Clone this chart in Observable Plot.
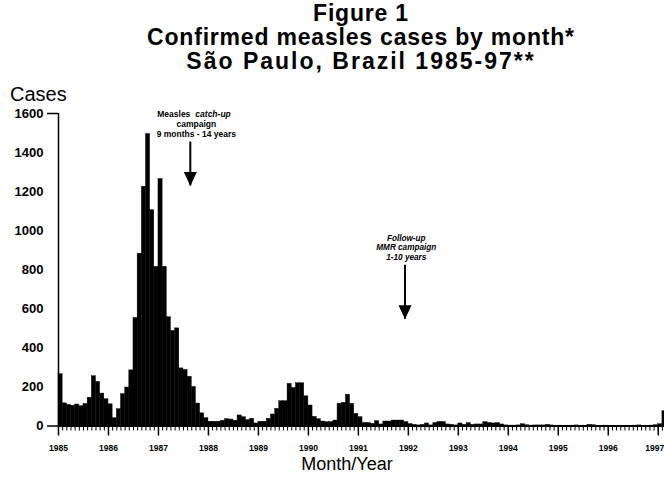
<!DOCTYPE html>
<html><head><meta charset="utf-8">
<script src="https://cdn.jsdelivr.net/npm/d3@7"></script>
<script src="https://cdn.jsdelivr.net/npm/@observablehq/plot@0.6"></script>
<style>
body{margin:0;background:#fff;}
#wrap{position:relative;width:664px;height:477px;overflow:hidden;font-family:"Liberation Sans",Arial,sans-serif;color:#000;background:#fff;}
#title{position:absolute;left:0;top:1px;width:664px;padding-left:58px;box-sizing:border-box;text-align:center;font-weight:bold;font-size:23px;line-height:24px;letter-spacing:0.8px;}
#title .l3{letter-spacing:2px;}
#ylab{position:absolute;left:10px;top:84px;font-size:20px;line-height:20px;}
#xlab{position:absolute;left:0;width:694px;top:455px;text-align:center;font-size:18px;line-height:18px;}
#chart{position:absolute;left:0;top:74px;}
#chart svg{overflow:visible;}
</style></head>
<body>
<div id="wrap">
  <div id="title">Figure 1<br>Confirmed measles cases by month*<br><span class="l3">São Paulo, Brazil 1985-97**</span></div>
  <div id="ylab">Cases</div>
  <div id="chart"></div>
  <div id="xlab">Month/Year</div>
</div>
<script>
// Monthly confirmed measles cases, São Paulo
const years = [1985, 1986, 1987, 1988, 1989, 1990, 1991, 1992, 1993, 1994, 1995, 1996, 1997];
const cases1985 = [265, 116, 108, 104, 110, 101, 113, 145, 255, 226, 166, 137];
const cases1986 = [111, 40, 86, 163, 197, 285, 553, 882, 1225, 1495, 1105, 815];
const cases1987 = [1265, 815, 557, 487, 500, 295, 287, 252, 200, 115, 65, 40];
const cases1988 = [22, 22, 22, 27, 35, 33, 27, 54, 45, 30, 37, 13];
const cases1989 = [22, 22, 37, 59, 88, 127, 127, 216, 195, 219, 219, 152];
const cases1990 = [105, 47, 35, 23, 20, 20, 28, 114, 119, 160, 114, 62];
const cases1991 = [45, 16, 15, 11, 25, 8, 23, 23, 28, 28, 28, 20];
const cases1992 = [10, 6, 3, 6, 13, 3, 16, 21, 20, 8, 6, 3];
const cases1993 = [13, 6, 15, 6, 8, 8, 20, 16, 13, 15, 8, 3];
const cases1994 = [2, 2, 3, 9, 4, 2, 3, 3, 3, 6, 3, 1];
const cases1995 = [2, 1, 1, 2, 3, 1, 2, 6, 4, 1, 1, 2];
const cases1996 = [1, 1, 0, 0, 1, 1, 2, 3, 1, 1, 2, 4];
const cases1997 = [9, 76];
const yTicks = [0, 200, 400, 600, 800, 1000, 1200, 1400, 1600];

// Annotations (x = months since Jan 1985, y = cases)
const catchupTextX = [33.1];
const catchupLineY = [1595, 1544, 1493];
const catchupLines = ["Measles", "catch-up", "campaign", "9 months - 14 years"];
const catchupArrow = [{x: 31.65, top: 1454, tip: 1229}];
const followTextX = [83.5];
const followLineY = [962, 913, 864];
const followLines = ["Follow-up", "MMR campaign", "1-10 years"];
const followArrow = [{x: 83.2, top: 823, tip: 546}];

const series = [cases1985, cases1986, cases1987, cases1988, cases1989, cases1990, cases1991,
  cases1992, cases1993, cases1994, cases1995, cases1996, cases1997];
const data = years.flatMap((yr, k) => series[k].map((v, m) => ({i: k * 12 + m, cases: v})));
const nMonths = data.length;
const yearLabels = years.map((y, k) => ({i: k * 12, label: String(y)}));
const monthTicks = d3.range(0, nMonths);

const downTriangle = {
  draw(ctx) { ctx.moveTo(-6.5, -14); ctx.lineTo(6.5, -14); ctx.lineTo(0, 0); ctx.closePath(); }
};
const arrows = [...catchupArrow, ...followArrow];
const followText = followLines.map((t, k) => ({x: followTextX[0], y: followLineY[k], t}));
const cx = catchupTextX[0];

const chart = Plot.plot({
  width: 664, height: 378,
  marginLeft: 58, marginRight: 0, marginTop: 39, marginBottom: 26.5,
  x: {domain: [0, 145.5], label: null},
  y: {domain: [0, 1600], label: null},
  style: {fontFamily: "'Liberation Sans', Arial, sans-serif", color: "#000", background: "transparent"},
  marks: [
    Plot.rectY(data, {x1: "i", x2: d => d.i + 1, y: "cases", fill: "#000", stroke: "#000", strokeWidth: 0.4}),
    Plot.ruleX([0], {y1: 0, y2: 1600, stroke: "#000", strokeWidth: 1.5}),
    Plot.axisY(yTicks, {tickSize: 0, tickPadding: 15, fontWeight: "bold", fontSize: 13, tickFormat: d => String(d), label: null}),
    Plot.axisY([0, 1600], {tickSize: 11, text: null, strokeWidth: 1.5, label: null}),
    Plot.axisX(monthTicks, {tickSize: 5, text: null, strokeWidth: 1, label: null}),
    Plot.axisX(yearLabels.map(d => d.i), {tickSize: 10, text: null, strokeWidth: 1.5, label: null}),
    Plot.text(yearLabels.slice(0, -1), {x: "i", y: 0, text: "label", dy: 22, fontWeight: "bold", fontSize: 8.5, lineAnchor: "middle"}),
    Plot.text(yearLabels.slice(-1), {x: "i", y: 0, text: "label", dy: 22, dx: 6, textAnchor: "end", fontWeight: "bold", fontSize: 8.5, lineAnchor: "middle"}),
    Plot.ruleY([0], {x1: 0, x2: 145.5, stroke: "#000", strokeWidth: 2}),
    // arrows
    Plot.ruleX(arrows, {x: "x", y1: "top", y2: "tip", stroke: "#000", strokeWidth: 2}),
    Plot.dot(arrows, {x: "x", y: "tip", symbol: downTriangle, fill: "#000", stroke: null}),
    // catch-up campaign annotation
    Plot.text([catchupLines[0]], {x: cx, y: catchupLineY[0], text: d => d, textAnchor: "end", dx: -6, fontWeight: "bold", fontSize: 8.5}),
    Plot.text([catchupLines[1]], {x: cx, y: catchupLineY[0], text: d => d, textAnchor: "start", dx: -1, fontWeight: "bold", fontStyle: "italic", fontSize: 8.5}),
    Plot.text([catchupLines[2]], {x: cx, y: catchupLineY[1], text: d => d, fontWeight: "bold", fontSize: 8.5}),
    Plot.text([catchupLines[3]], {x: cx, y: catchupLineY[2], text: d => d, fontWeight: "bold", fontSize: 8.5}),
    // follow-up campaign annotation
    Plot.text(followText, {x: "x", y: "y", text: "t", fontWeight: "bold", fontStyle: "italic", fontSize: 8.2})
  ]
});
document.getElementById("chart").appendChild(chart);
</script>
</body></html>
